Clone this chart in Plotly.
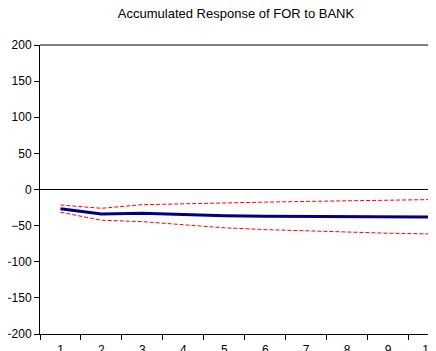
import plotly.graph_objects as go

periods = ["1", "2", "3", "4", "5", "6", "7", "8", "9", "10"]
response = [-26.5, -34, -33, -35, -36.5, -37, -37.5, -38, -38, -38]
upper = [-21.5, -26, -21, -19.5, -18.5, -17.5, -16.5, -15.5, -15, -14]
lower = [-31.5, -42.5, -44.5, -49, -53, -55.5, -57.5, -59.5, -60.5, -61.5]

fig = go.Figure()
fig.add_trace(go.Scatter(x=periods, y=upper, mode="lines",
                         line=dict(color="#ff0000", width=1, dash="4px,2px")))
fig.add_trace(go.Scatter(x=periods, y=lower, mode="lines",
                         line=dict(color="#ff0000", width=1, dash="4px,2px")))
fig.add_trace(go.Scatter(x=periods, y=response, mode="lines",
                         line=dict(color="#000080", width=3)))

# page body has an 8px margin, so the figure is sized/offset to compensate
fig.update_layout(
    width=428, height=343,
    margin=dict(l=32, r=0, t=37, b=17),
    paper_bgcolor="white", plot_bgcolor="white",
    showlegend=False,
    font=dict(family="Liberation Sans, Arial", size=12, color="black"),
    title=dict(text="Accumulated Response of FOR to BANK", x=228 / 428, xanchor="center",
               xref="container", y=1 - 5 / 343, yanchor="middle", font=dict(size=13)),
)
fig.update_xaxes(type="category", range=[-0.5, 9.17], tickson="boundaries",
                 ticks="outside", ticklen=5, tickcolor="black", showgrid=False,
                 showline=True, linecolor="black", linewidth=1, mirror=False,
                 ticklabelstandoff=5, automargin=False)
fig.update_yaxes(range=[-200, 200], tickvals=[-200, -150, -100, -50, 0, 50, 100, 150, 200],
                 ticks="outside", ticklen=5, tickcolor="black", showgrid=False,
                 showline=True, linecolor="black", linewidth=1,
                 zeroline=True, zerolinecolor="black", zerolinewidth=1,
                 automargin=False)
# top frame line
fig.add_shape(type="line", xref="paper", yref="paper", x0=0, x1=1, y0=1, y1=1,
              line=dict(color="black", width=1))

fig.write_html("out.html")
